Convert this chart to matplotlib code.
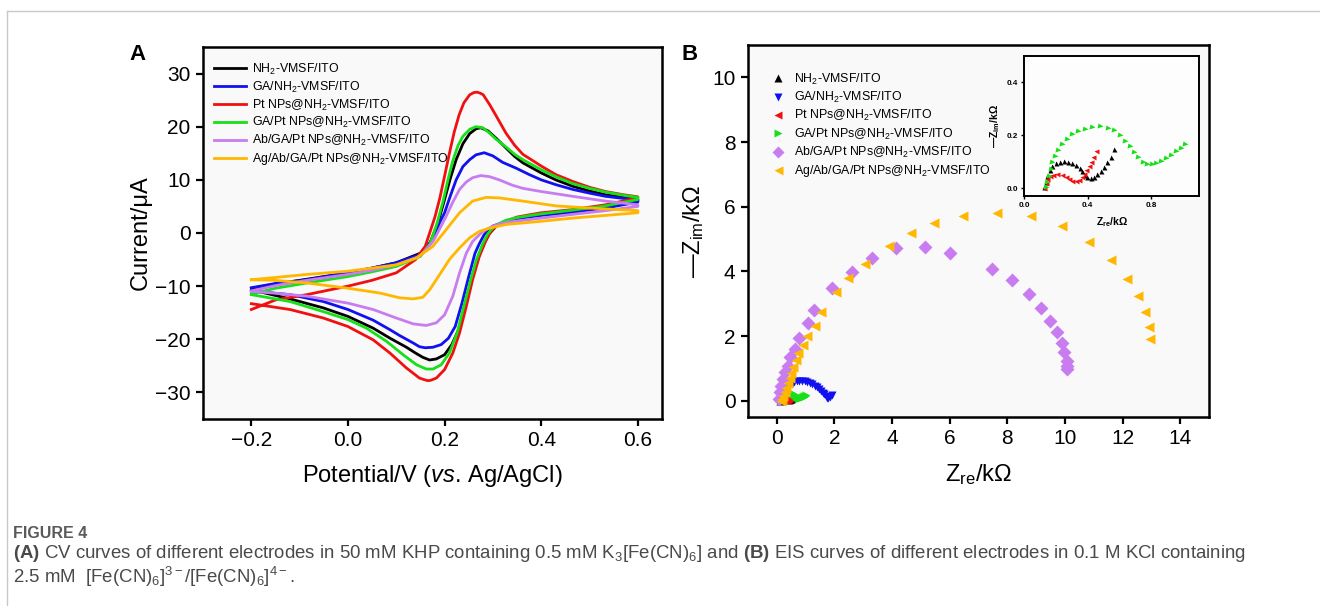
import matplotlib
matplotlib.use("Agg")
import matplotlib.pyplot as plt
from matplotlib.lines import Line2D

plt.rcParams['font.family'] = ['Liberation Sans', 'DejaVu Sans']
plt.rcParams['mathtext.fontset'] = 'custom'
plt.rcParams['mathtext.rm'] = 'Liberation Sans'
plt.rcParams['mathtext.it'] = 'Liberation Sans:italic'
plt.rcParams['mathtext.bf'] = 'Liberation Sans:bold'
plt.rcParams['mathtext.default'] = 'regular'

labels = ["NH$_2$-VMSF/ITO", "GA/NH$_2$-VMSF/ITO", "Pt NPs@NH$_2$-VMSF/ITO",
          "GA/Pt NPs@NH$_2$-VMSF/ITO", "Ab/GA/Pt NPs@NH$_2$-VMSF/ITO",
          "Ag/Ab/GA/Pt NPs@NH$_2$-VMSF/ITO"]
colors = ["#000000", "#1010f0", "#f01010", "#18e018", "#c87cf0", "#ffb700"]

# ---- CV data (potential V, current uA), forward then reverse scan ----
E_black = [-0.200, -0.150, -0.085, 0.000, 0.050, 0.100, 0.150, 0.170, 0.185, 0.200, 0.212, 0.224, 0.238, 0.252, 0.265, 0.275, 0.290, 0.307, 0.327, 0.345, 0.362, 0.400, 0.430, 0.465, 0.500, 0.533, 0.570, 0.600,
           0.600, 0.533, 0.465, 0.400, 0.350, 0.327, 0.307, 0.292, 0.282, 0.268, 0.256, 0.243, 0.229, 0.215, 0.200, 0.183, 0.169, 0.155, 0.140, 0.121, 0.087, 0.052, 0.000, -0.051, -0.120, -0.200]
I_black = [-10.4, -9.6, -8.7, -7.5, -6.6, -5.6, -3.8, -1.8, 1.5, 6.3, 10.3, 13.8, 16.8, 18.7, 19.6, 19.8, 19.2, 17.8, 16.0, 14.4, 13.2, 11.3, 10.0, 8.8, 7.9, 7.2, 6.7, 6.3,
           6.0, 5.0, 4.1, 3.5, 2.8, 2.2, 1.3, -0.2, -2.0, -5.0, -8.8, -13.8, -18.2, -21.0, -22.9, -23.7, -23.9, -23.4, -22.6, -21.5, -19.8, -17.9, -15.7, -14.1, -12.4, -10.7]

E_blue = [-0.200, -0.150, -0.085, 0.000, 0.050, 0.100, 0.148, 0.165, 0.176, 0.190, 0.200, 0.212, 0.224, 0.238, 0.252, 0.265, 0.282, 0.300, 0.320, 0.348, 0.375, 0.400, 0.430, 0.465, 0.500, 0.533, 0.570, 0.600,
          0.600, 0.533, 0.465, 0.400, 0.350, 0.327, 0.300, 0.282, 0.272, 0.263, 0.250, 0.236, 0.222, 0.208, 0.193, 0.176, 0.160, 0.148, 0.135, 0.107, 0.087, 0.052, 0.000, -0.051, -0.120, -0.200]
I_blue = [-10.3, -9.5, -8.8, -7.5, -6.6, -5.6, -4.1, -2.5, -1.0, 2.0, 3.8, 7.0, 10.0, 12.5, 13.8, 14.7, 15.1, 14.5, 13.3, 12.2, 11.0, 10.0, 9.1, 8.2, 7.5, 6.9, 6.5, 6.3,
          5.8, 4.7, 3.9, 3.3, 2.7, 2.2, 1.3, -0.3, -2.0, -3.8, -8.2, -13.2, -17.6, -19.8, -21.0, -21.5, -21.6, -21.4, -20.7, -19.3, -18.2, -16.4, -14.4, -12.9, -11.6, -10.9]

E_red = [-0.200, -0.150, -0.085, 0.000, 0.050, 0.100, 0.140, 0.160, 0.180, 0.190, 0.200, 0.210, 0.220, 0.230, 0.240, 0.252, 0.260, 0.267, 0.274, 0.280, 0.293, 0.307, 0.327, 0.345, 0.362, 0.400, 0.430, 0.465, 0.500, 0.533, 0.570, 0.600,
         0.600, 0.533, 0.465, 0.400, 0.350, 0.327, 0.307, 0.295, 0.285, 0.272, 0.258, 0.245, 0.231, 0.217, 0.200, 0.183, 0.172, 0.166, 0.158, 0.148, 0.121, 0.087, 0.052, 0.000, -0.051, -0.120, -0.200]
I_red = [-14.4, -12.6, -11.6, -10.0, -8.9, -7.5, -5.0, -2.5, 3.0, 6.5, 10.7, 15.0, 19.0, 22.2, 24.5, 26.0, 26.4, 26.5, 26.3, 26.0, 24.2, 22.0, 18.8, 16.5, 14.8, 12.6, 11.0, 9.7, 8.6, 7.8, 7.2, 6.8,
         6.6, 5.3, 4.4, 3.8, 3.0, 2.2, 1.3, 0.2, -1.5, -4.4, -8.8, -13.8, -18.8, -22.6, -25.7, -27.3, -27.7, -27.8, -27.6, -27.3, -25.4, -22.6, -20.1, -17.6, -16.0, -14.4, -13.3]

E_green = [-0.200, -0.150, -0.085, 0.000, 0.050, 0.100, 0.150, 0.170, 0.185, 0.197, 0.207, 0.217, 0.228, 0.238, 0.252, 0.265, 0.279, 0.293, 0.307, 0.327, 0.345, 0.362, 0.400, 0.430, 0.465, 0.500, 0.533, 0.570, 0.600,
           0.600, 0.533, 0.465, 0.400, 0.350, 0.327, 0.303, 0.289, 0.279, 0.266, 0.254, 0.240, 0.226, 0.210, 0.193, 0.176, 0.162, 0.142, 0.114, 0.080, 0.038, 0.000, -0.051, -0.120, -0.200]
I_green = [-11.5, -10.4, -9.4, -8.2, -7.3, -6.3, -4.4, -2.0, 2.0, 6.0, 10.0, 13.6, 16.5, 18.2, 19.5, 20.0, 19.8, 18.8, 17.6, 16.2, 14.8, 13.8, 11.9, 10.6, 9.3, 8.4, 7.7, 7.1, 6.7,
           6.3, 5.1, 4.3, 3.6, 2.9, 2.4, 1.3, -0.2, -2.0, -5.0, -8.8, -13.8, -18.8, -22.6, -24.8, -25.6, -25.6, -24.8, -22.9, -20.4, -17.9, -16.3, -14.8, -12.9, -11.6]

E_purple = [-0.200, -0.150, -0.085, 0.000, 0.050, 0.100, 0.148, 0.165, 0.176, 0.190, 0.203, 0.217, 0.231, 0.245, 0.258, 0.275, 0.293, 0.313, 0.340, 0.362, 0.400, 0.465, 0.533, 0.600,
            0.600, 0.533, 0.465, 0.400, 0.327, 0.300, 0.279, 0.258, 0.245, 0.231, 0.217, 0.200, 0.183, 0.162, 0.135, 0.100, 0.052, 0.000, -0.085, -0.154, -0.200]
I_purple = [-10.9, -9.9, -8.9, -7.8, -7.0, -6.0, -4.4, -2.8, -1.6, 0.8, 3.1, 5.8, 8.2, 9.6, 10.4, 10.8, 10.6, 10.0, 9.0, 8.4, 7.8, 6.9, 6.0, 5.3,
            5.0, 4.2, 3.5, 2.8, 2.0, 1.3, 0.3, -1.6, -3.8, -7.5, -11.9, -15.4, -16.9, -17.4, -17.1, -16.0, -14.4, -13.2, -11.9, -11.3, -11.0]

E_yellow = [-0.200, -0.085, 0.000, 0.100, 0.142, 0.176, 0.203, 0.231, 0.258, 0.286, 0.313, 0.362, 0.430, 0.499, 0.600,
            0.600, 0.465, 0.400, 0.327, 0.293, 0.272, 0.252, 0.231, 0.210, 0.190, 0.169, 0.155, 0.135, 0.107, 0.066, 0.000, -0.085, -0.154, -0.200]
I_yellow = [-8.8, -7.8, -7.2, -6.0, -4.7, -2.5, 0.6, 3.8, 6.0, 6.7, 6.6, 6.0, 5.1, 4.7, 4.2,
            3.8, 2.8, 2.2, 1.6, 0.9, 0.3, -0.9, -2.8, -5.0, -7.8, -10.7, -12.1, -12.4, -12.2, -11.3, -10.4, -9.4, -8.9, -8.8]

# ---- EIS data (kOhm) ----
zre_black = [0.126, 0.136, 0.147, 0.161, 0.178, 0.199, 0.224, 0.251, 0.276, 0.304, 0.329, 0.350, 0.366, 0.381, 0.398, 0.419, 0.440, 0.461, 0.482, 0.503, 0.524, 0.545, 0.565]
zim_black = [0.003, 0.022, 0.047, 0.069, 0.085, 0.094, 0.100, 0.102, 0.100, 0.095, 0.088, 0.076, 0.063, 0.051, 0.043, 0.039, 0.043, 0.053, 0.066, 0.081, 0.098, 0.117, 0.149]

zre_blue = [0.20, 0.25, 0.30, 0.36, 0.43, 0.51, 0.60, 0.69, 0.78, 0.87, 0.96, 1.05, 1.14, 1.23, 1.31, 1.39, 1.46, 1.53, 1.59, 1.64, 1.69, 1.73, 1.78, 1.84, 1.90]
zim_blue = [0.05, 0.17, 0.28, 0.37, 0.45, 0.52, 0.57, 0.60, 0.62, 0.62, 0.61, 0.59, 0.56, 0.52, 0.47, 0.42, 0.37, 0.31, 0.25, 0.20, 0.14, 0.10, 0.09, 0.13, 0.18]

zre_red = [0.126, 0.136, 0.147, 0.163, 0.184, 0.209, 0.237, 0.262, 0.283, 0.304, 0.325, 0.346, 0.362, 0.377, 0.392, 0.406, 0.421, 0.436, 0.450]
zim_red = [0.000, 0.018, 0.034, 0.044, 0.051, 0.052, 0.050, 0.043, 0.034, 0.028, 0.025, 0.030, 0.041, 0.053, 0.069, 0.085, 0.100, 0.117, 0.142]

zre_green = [0.136, 0.147, 0.157, 0.168, 0.178, 0.193, 0.214, 0.241, 0.272, 0.304, 0.339, 0.381, 0.429, 0.477, 0.528, 0.565, 0.603, 0.632, 0.664, 0.691, 0.716, 0.748, 0.775, 0.802, 0.831, 0.863, 0.894, 0.926, 0.957, 0.984, 1.009]
zim_green = [0.003, 0.022, 0.047, 0.072, 0.098, 0.123, 0.145, 0.165, 0.187, 0.203, 0.216, 0.225, 0.232, 0.234, 0.227, 0.218, 0.199, 0.180, 0.159, 0.136, 0.117, 0.100, 0.091, 0.091, 0.095, 0.104, 0.114, 0.126, 0.140, 0.152, 0.168]

zre_purple = [10.06, 10.06, 10.06, 9.98, 9.89, 9.72, 9.49, 9.17, 8.74, 8.17, 7.46, 6.01, 5.14, 4.13, 3.29, 2.61, 1.91, 1.28, 1.07, 0.77, 0.62, 0.47, 0.37, 0.29, 0.22, 0.15, 0.10, 0.07]
zim_purple = [0.97, 1.09, 1.24, 1.52, 1.79, 2.12, 2.46, 2.87, 3.30, 3.72, 4.09, 4.58, 4.75, 4.71, 4.42, 3.97, 3.49, 2.80, 2.39, 1.95, 1.61, 1.34, 1.09, 0.88, 0.67, 0.47, 0.26, 0.06]

zre_yellow = [12.96, 12.93, 12.79, 12.54, 12.17, 11.59, 10.83, 9.91, 8.82, 7.65, 6.47, 5.46, 4.65, 3.90, 3.05, 2.48, 2.07, 1.52, 1.34, 1.03, 0.92, 0.74, 0.66, 0.57, 0.50, 0.44, 0.38, 0.33, 0.28, 0.22, 0.17, 0.13]
zim_yellow = [1.91, 2.27, 2.73, 3.24, 3.78, 4.36, 4.92, 5.40, 5.70, 5.82, 5.72, 5.49, 5.20, 4.78, 4.23, 3.81, 3.37, 2.73, 2.32, 2.00, 1.74, 1.47, 1.25, 1.04, 0.86, 0.70, 0.55, 0.40, 0.27, 0.15, 0.06, 0.00]

markers = ['^', 'v', '<', '>', 'D', '<']
msizes = [6, 6, 6, 6, 6.8, 7.2]

fig = plt.figure(figsize=(13.2, 6.06), dpi=100)
bg = '#f9f9f9'

# ---------------- panel A ----------------
axA = fig.add_axes([0.1538, 0.3086, 0.3477, 0.6139], facecolor=bg)
cv = [(E_black, I_black), (E_blue, I_blue), (E_red, I_red),
      (E_green, I_green), (E_purple, I_purple), (E_yellow, I_yellow)]
for (e, i), c, lab in zip(cv, colors, labels):
    axA.plot(e, i, color=c, lw=2.0, label=lab, solid_joinstyle='round')
axA.set_xlim(-0.3, 0.65)
axA.set_ylim(-35, 35)
axA.set_xticks([-0.2, 0.0, 0.2, 0.4, 0.6])
axA.set_yticks([-30, -20, -10, 0, 10, 20, 30])
axA.set_xlabel('Potential/V ($\\it{vs}$. Ag/AgCl)', fontsize=17)
axA.set_ylabel('Current/μA', fontsize=17)
axA.xaxis.set_label_coords(0.5, -0.118)
axA.yaxis.set_label_coords(-0.112, 0.5)
axA.legend(loc='upper left', bbox_to_anchor=(0.0, 0.99), frameon=False, fontsize=8.9,
           handlelength=2.6, handletextpad=0.45, labelspacing=0.22, borderaxespad=0.5)

# ---------------- panel B ----------------
axB = fig.add_axes([0.5667, 0.3119, 0.3492, 0.6139], facecolor=bg)
eis = [(zre_black, zim_black), (zre_blue, zim_blue), (zre_red, zim_red),
       (zre_green, zim_green), (zre_purple, zim_purple), (zre_yellow, zim_yellow)]
for (x, y), c, m, ms, lab in zip(eis, colors, markers, msizes, labels):
    axB.plot(x, y, ls='none', marker=m, ms=ms, color=c, mec='none', label=lab)
axB.set_xlim(-1, 15)
axB.set_ylim(-0.5, 11)
axB.set_xticks(range(0, 15, 2))
axB.set_yticks(range(0, 11, 2))
axB.set_xlabel('Z$_{re}$/kΩ', fontsize=17)
axB.set_ylabel('—Z$_{im}$/kΩ', fontsize=17)
axB.xaxis.set_label_coords(0.5, -0.121)
axB.yaxis.set_label_coords(-0.092, 0.5)
axB.legend(loc='upper left', bbox_to_anchor=(0.025, 0.958), frameon=False, fontsize=8.9,
           handlelength=1.2, handletextpad=0.7, labelspacing=0.26, borderaxespad=0.5,
           markerscale=0.9)

for ax in (axA, axB):
    ax.tick_params(direction='out', length=5, width=1.6, labelsize=15, pad=4)
    for s in ax.spines.values():
        s.set_linewidth(1.8)

# ---------------- inset ----------------
axIn = fig.add_axes([0.7758, 0.6766, 0.1326, 0.2310], facecolor='#fdfdfd')
for k in (0, 2, 3):
    axIn.plot(eis[k][0], eis[k][1], ls='none', marker=markers[k], ms=3.6,
              color=colors[k], mec='none')
axIn.set_xlim(0, 1.1)
axIn.set_ylim(-0.03, 0.5)
axIn.set_xticks([0.0, 0.4, 0.8])
axIn.set_yticks([0.0, 0.2, 0.4])
axIn.tick_params(direction='out', length=2.5, width=1.0, labelsize=5.8, pad=2)
for t in axIn.get_xticklabels() + axIn.get_yticklabels():
    t.set_fontweight('bold')
for s in axIn.spines.values():
    s.set_linewidth(1.4)
axIn.set_xlabel('Z$_\\mathbf{re}$/kΩ', fontsize=7.5, fontweight='bold', labelpad=4)
axIn.set_ylabel('—Z$_\\mathbf{im}$/kΩ', fontsize=7.5, fontweight='bold', labelpad=3)

# panel letters
fig.text(137 / 1320, 1 - 55 / 606, 'A', fontsize=16, fontweight='bold', ha='center', va='center')
fig.text(690 / 1320, 1 - 55 / 606, 'B', fontsize=16, fontweight='bold', ha='center', va='center')

# frame of the page
fig.add_artist(Line2D([7 / 1320, 7 / 1320], [0, 1 - 11 / 606], color='#c8c8c8', lw=1))
fig.add_artist(Line2D([7 / 1320, 1], [1 - 11 / 606, 1 - 11 / 606], color='#c8c8c8', lw=1))

# caption
fig.text(13 / 1320, 1 - 534 / 606, 'FIGURE 4', fontsize=11.5, fontweight='bold',
         color='#5a5a5a', ha='left', va='center')
fig.text(13 / 1320, 1 - 554 / 606,
         '$\\mathbf{(A)}$ CV curves of different electrodes in 50 mM KHP containing 0.5 mM '
         'K$_3$[Fe(CN)$_6$] and $\\mathbf{(B)}$ EIS curves of different electrodes in 0.1 M KCl containing',
         fontsize=13.4, color='#4a4a4a', ha='left', va='center')
fig.text(13 / 1320, 1 - 577 / 606,
         '2.5 mM  [Fe(CN)$_6$]$^{3-}$/[Fe(CN)$_6$]$^{4-}$.',
         fontsize=13.4, color='#4a4a4a', ha='left', va='center')

fig.savefig('out.png', dpi=100)
